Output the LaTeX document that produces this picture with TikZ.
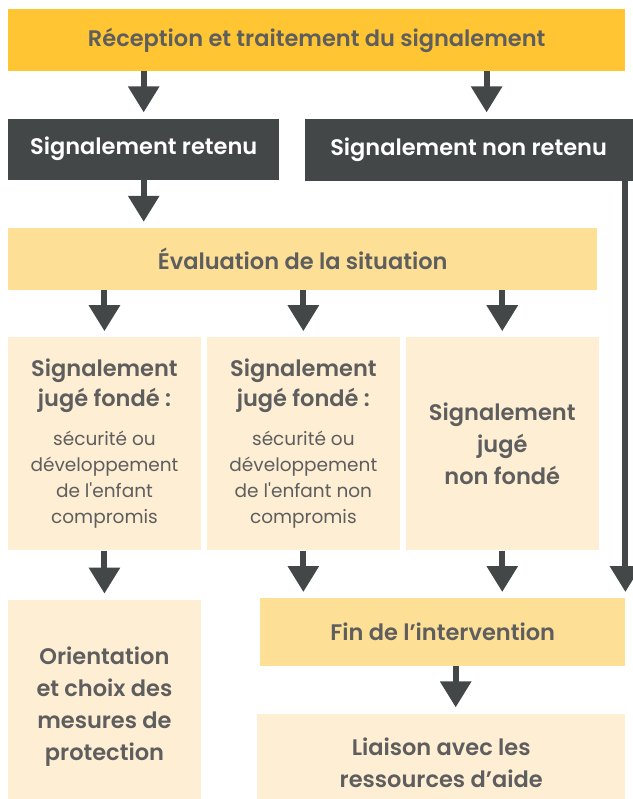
\documentclass[tikz,border=0pt]{standalone}
\usepackage{fontspec}
\setmainfont{Poppins}[BoldFont={Poppins SemiBold}, Ligatures=TeXOff]
\usetikzlibrary{positioning,arrows.meta}

\definecolor{signalgold}{HTML}{FFC532}
\definecolor{signaldark}{HTML}{434748}
\definecolor{evalyellow}{HTML}{FDDF96}
\definecolor{paleyellow}{HTML}{FEEED3}
\definecolor{textgray}{HTML}{5E5E5E}

\begin{document}
\begin{tikzpicture}[
  x=1pt, y=1pt,
  >={Triangle[length=26pt,width=30pt]},
  every node/.style={font=\fontsize{22.5}{32}\selectfont\bfseries, align=center, text=textgray, inner sep=0pt},
  box/.style={minimum height=62pt, anchor=north west},
  head/.style={box, fill=signalgold},
  dark/.style={box, fill=signaldark, text=white},
  evalbox/.style={box, fill=evalyellow},
  palebox/.style={box, fill=paleyellow},
  verdict/.style={palebox, minimum width=192.5pt, minimum height=213pt, text width=188pt, align=flush center},
  arrow/.style={->, line width=6pt, draw=signaldark, fill=signaldark, shorten >=6pt}
]
\useasboundingbox (0,0) rectangle (632,-799);

\node[head, minimum width=617pt] (recep) at (8,-9) {Réception et traitement du signalement};

\node[dark, minimum width=271pt, minimum height=61pt, below=47pt of recep.south west, anchor=north west] (ret) {Signalement retenu};
\node[dark, minimum width=328pt, right=25pt of ret.north east, anchor=north west] (nonret) {Signalement non retenu};

\node[evalbox, minimum width=589pt, below=48pt of ret.south west, anchor=north west] (eval) {Évaluation de la situation};

\node[verdict, below=47pt of eval.south west, anchor=north west] (fonde)
  {{\fontsize{22.5}{30}\selectfont Signalement\\jugé fondé :\par}\vspace{13pt}
   {\fontsize{18.5}{26}\selectfont\mdseries sécurité ou\\développement\\de l'enfant\\compromis\par}};
\node[verdict, right=6pt of fonde.north east, anchor=north west] (noncomp)
  {{\fontsize{22.5}{30}\selectfont Signalement\\jugé fondé :\par}\vspace{13pt}
   {\fontsize{18.5}{26}\selectfont\mdseries sécurité ou\\développement\\de l'enfant non\\compromis\par}};
\node[verdict, right=6pt of noncomp.north east, anchor=north west] (nonfonde) {Signalement\\jugé\\non fondé};

% the two lowest boxes run past the bottom edge
\node[verdict, minimum height=214pt, below=49pt of fonde.south west, anchor=north west] (orient) {Orientation\\et choix des\\mesures de\\protection};
\node[evalbox, minimum width=365pt, minimum height=68pt] (fin) at (260,-598) {Fin de l’intervention};
\node[palebox, minimum width=368pt, minimum height=99pt, below=47pt of fin.south west, xshift=-3pt, anchor=north west] (liaison) {Liaison avec les\\ressources d’aide};

\coordinate (nrtop) at ([xshift=18pt]nonret.north);
\coordinate (fintail) at ([xshift=13pt]fin.south);

\draw[arrow] (recep.south -| ret.north) -- (ret.north);
\draw[arrow] (recep.south -| nrtop) -- (nrtop);
\draw[arrow] (ret.south) -- (ret.south |- eval.north);
\foreach \v in {fonde,noncomp,nonfonde}
  \draw[arrow] (eval.south -| \v.north) -- (\v.north);
\draw[arrow] (fonde.south) -- (orient.north);
\foreach \v in {noncomp,nonfonde}
  \draw[arrow] (\v.south) -- (\v.south |- fin.north);
\draw[arrow] (nonret.south -| fin.north east) -- (fin.north east);
\draw[arrow] (fintail) -- (fintail |- liaison.north);

\end{tikzpicture}
\end{document}
